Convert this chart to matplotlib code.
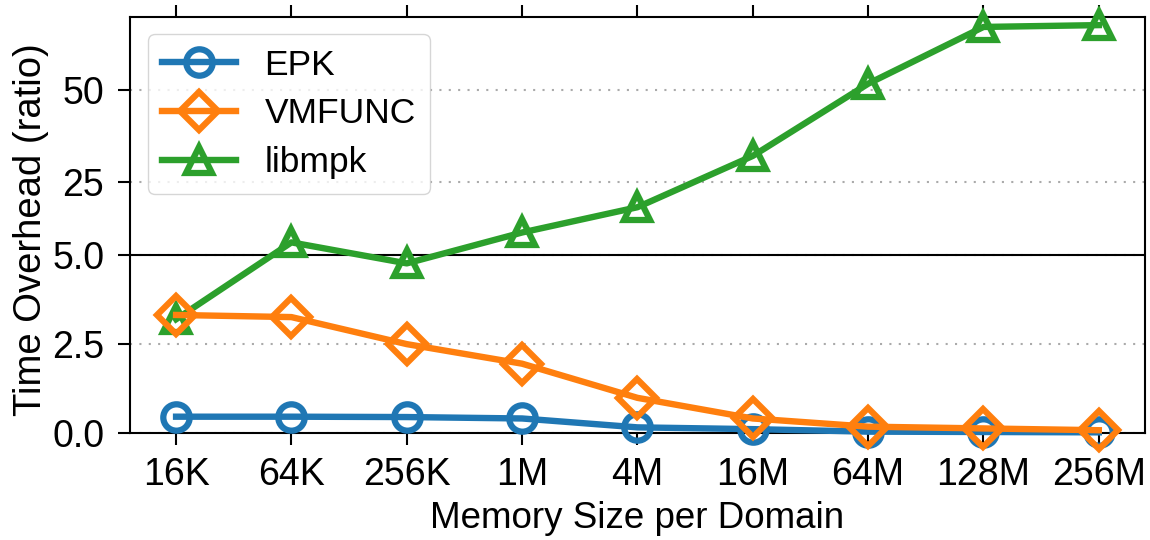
import matplotlib
matplotlib.use("Agg")
import matplotlib.pyplot as plt
import numpy as np

# Data
sizes = ['16K', '64K', '256K', '1M', '4M', '16M', '64M', '128M', '256M']
epk = [0.45, 0.45, 0.44, 0.40, 0.15, 0.10, 0.03, 0.02, 0.01]
vmfunc = [3.31, 3.25, 2.49, 1.94, 0.98, 0.40, 0.17, 0.12, 0.07]
libmpk = [3.19, 8.4, 4.76, 11.1, 18.0, 32.0, 51.7, 67.2, 67.7]

# y axis is linear up to 5, then compressed above it
split = 5.0
squeeze = 0.103


def fwd(y):
    y = np.asarray(y, dtype=float)
    return np.where(y <= split, y, split + (y - split) * squeeze)


def inv(y):
    y = np.asarray(y, dtype=float)
    return np.where(y <= split, y, split + (y - split) / squeeze)


plt.rcParams['font.family'] = ['Liberation Sans', 'DejaVu Sans']
plt.rcParams['font.size'] = 26.5

x = np.arange(len(sizes))
lw, ms, mew = 4.6, 19, 4.5

fig = plt.figure(figsize=(11.5, 5.4), dpi=100)
ax = fig.add_axes([0.113, 0.1987, 0.8826, 0.7704])
ax.set_yscale('function', functions=(fwd, inv))

ax.plot(x, libmpk, color='#2ca02c', lw=lw, marker='^', ms=ms, mew=mew,
        mfc='none', clip_on=False, zorder=3, label='libmpk')
ax.plot(x, epk, color='#1f77b4', lw=lw, marker='o', ms=ms, mew=mew,
        mfc='none', clip_on=False, zorder=4, label='EPK')
ax.plot(x, vmfunc, color='#ff7f0e', lw=lw, marker='D', ms=ms, mew=mew,
        mfc='none', clip_on=False, zorder=5, label='VMFUNC')

ax.axhline(split, color='black', lw=1.5, zorder=2)

ax.set_xlim(-0.4, len(sizes) - 0.6)
ax.set_ylim(0, 70)
ax.set_xticks(x)
ax.set_xticklabels(sizes)
ax.set_yticks([0, 2.5, 5.0, 25, 50])
ax.set_yticklabels(['0.0', '2.5', '5.0', '25', '50'])
ax.yaxis.grid(True, linestyle=(0, (1, 3.5)), color='#aaaaaa', lw=1.5)
ax.set_axisbelow(True)
ax.tick_params(direction='out', length=8.5, width=1.5, labelsize=27)
ax.tick_params(axis='x', top=True, pad=9)
ax.tick_params(axis='y', pad=10)
for s in ax.spines.values():
    s.set_linewidth(1.5)

handles, labels = ax.get_legend_handles_labels()
order = [1, 2, 0]
ax.legend([handles[i] for i in order], [labels[i] for i in order],
          loc='upper left', handlelength=2.1, borderaxespad=0.5,
          labelspacing=0.45, fontsize=25.5)

ax.set_xlabel('Memory Size per Domain', labelpad=6)
fig.text(0.027, 0.575, 'Time Overhead (ratio)', rotation=90,
         va='center', ha='center', fontsize=27.5)

fig.savefig('out.png', dpi=100)
